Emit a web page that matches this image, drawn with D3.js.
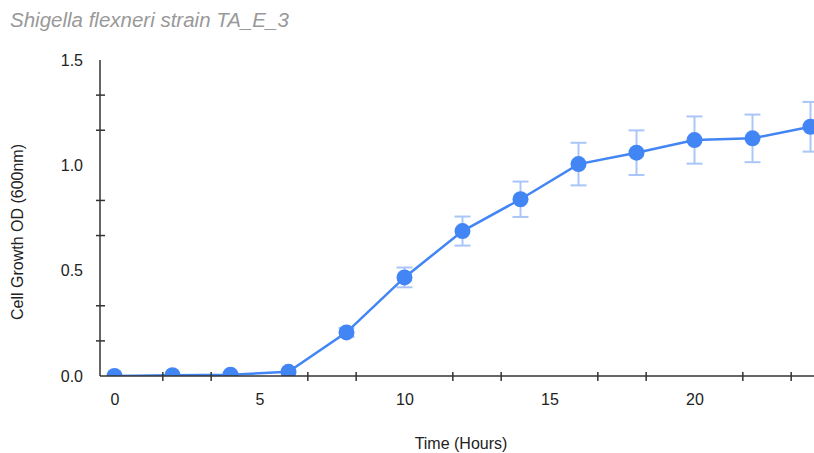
<!DOCTYPE html>
<html>
<head>
<meta charset="utf-8">
<script src="https://cdn.jsdelivr.net/npm/d3@7"></script>
<style>
  body { margin: 0; background: #fff; }
  text { font-family: "Liberation Sans", Arial, sans-serif; }
</style>
</head>
<body>
<div id="chart"></div>
<script>
// data
var hours = [0, 2, 4, 6, 8, 10, 12, 14, 16, 18, 20, 22, 24]
var od = [0.0, 0.004, 0.006, 0.02, 0.207, 0.468, 0.688, 0.839, 1.006, 1.06, 1.12, 1.128, 1.183]
var odError = [0.0, 0.0, 0.001, 0.002, 0.021, 0.047, 0.069, 0.084, 0.101, 0.106, 0.112, 0.113, 0.118]
var xTickLabels = [0, 5, 10, 15, 20]
var yTickLabels = [0, 0.5, 1.0, 1.5]
var xMinorTicks = [5/3, 10/3, 20/3, 25/3, 35/3, 40/3, 50/3, 55/3, 65/3, 70/3]
var yMinorTicks = [1/6, 2/6, 4/6, 5/6, 7/6, 8/6]

var width = 814, height = 453
var blue = "#4285f4"

var svg = d3.select("#chart").append("svg").attr("width", width).attr("height", height)

var x = d3.scaleLinear().domain([-0.5, 24.5]).range([100, 825])
var y = d3.scaleLinear().domain([0, 1.5]).range([376, 60])

// title
svg.append("text")
    .attr("x", 10)
    .attr("y", 27)
    .attr("fill", "#999")
    .style("font-size", "20.5px")
    .style("font-style", "italic")
    .text("Shigella flexneri strain TA_E_3")

// clip for the plot area
svg.append("defs").append("clipPath").attr("id", "plotclip")
  .append("rect")
    .attr("x", 100).attr("y", 40)
    .attr("width", width - 100).attr("height", 336)

// error bars
var errG = svg.append("g").attr("clip-path", "url(#plotclip)")
hours.forEach(function(h, i) {
  if (odError[i] < 0.01) return
  var cx = x(h), top = y(od[i] + odError[i]), bot = y(od[i] - odError[i])
  errG.append("line").attr("x1", cx).attr("x2", cx).attr("y1", top).attr("y2", bot)
  errG.append("line").attr("x1", cx - 8).attr("x2", cx + 8).attr("y1", top).attr("y2", top)
  errG.append("line").attr("x1", cx - 8).attr("x2", cx + 8).attr("y1", bot).attr("y2", bot)
})
errG.selectAll("line").attr("stroke", "#aac6f8").attr("stroke-width", 2)

// line + points
var lineFunc = d3.line()
    .x(function(d, i) { return x(hours[i]) })
    .y(function(d) { return y(d) })

var plotG = svg.append("g").attr("clip-path", "url(#plotclip)")
plotG.append("path")
    .attr("d", lineFunc(od))
    .attr("stroke", blue)
    .attr("stroke-width", 2.5)
    .attr("fill", "none")

plotG.selectAll("circle")
  .data(od)
  .join("circle")
    .attr("cx", function(d, i) { return x(hours[i]) })
    .attr("cy", function(d) { return y(d) })
    .attr("r", 8)
    .attr("fill", blue)

// axes
var xAxis = svg.append("g")
    .attr("transform", "translate(0,376)")
    .call(d3.axisBottom(x).tickValues(xTickLabels).tickSize(0).tickPadding(18).tickFormat(d3.format("d")))
xAxis.select(".domain").remove()
xAxis.selectAll("text").style("font-size", "16px").attr("fill", "#222")

var yAxis = svg.append("g")
    .attr("transform", "translate(100,0)")
    .call(d3.axisLeft(y).tickValues(yTickLabels).tickSize(0).tickPadding(17).tickFormat(d3.format(".1f")))
yAxis.select(".domain").remove()
yAxis.selectAll("text").style("font-size", "16px").attr("fill", "#222")

// minor ticks crossing the axis lines
svg.selectAll(".xminor")
  .data(xMinorTicks)
  .join("line")
    .attr("x1", function(d) { return x(d) })
    .attr("x2", function(d) { return x(d) })
    .attr("y1", 372).attr("y2", 381)
    .attr("stroke", "#333").attr("stroke-width", 1.5)

svg.selectAll(".yminor")
  .data(yMinorTicks)
  .join("line")
    .attr("x1", 96).attr("x2", 105)
    .attr("y1", function(d) { return y(d) })
    .attr("y2", function(d) { return y(d) })
    .attr("stroke", "#333").attr("stroke-width", 1.5)

// axis lines
svg.append("line")
    .attr("x1", 100).attr("x2", width)
    .attr("y1", 376).attr("y2", 376)
    .attr("stroke", "#333").attr("stroke-width", 1.5)
svg.append("line")
    .attr("x1", 100).attr("x2", 100)
    .attr("y1", 60).attr("y2", 376)
    .attr("stroke", "#333").attr("stroke-width", 1.5)

// axis titles
svg.append("text")
    .attr("x", 461)
    .attr("y", 449)
    .attr("text-anchor", "middle")
    .attr("fill", "#222")
    .style("font-size", "16px")
    .text("Time (Hours)")

svg.append("text")
    .attr("transform", "translate(23,232) rotate(-90)")
    .attr("text-anchor", "middle")
    .attr("fill", "#222")
    .style("font-size", "16px")
    .text("Cell Growth OD (600nm)")
</script>
</body>
</html>
